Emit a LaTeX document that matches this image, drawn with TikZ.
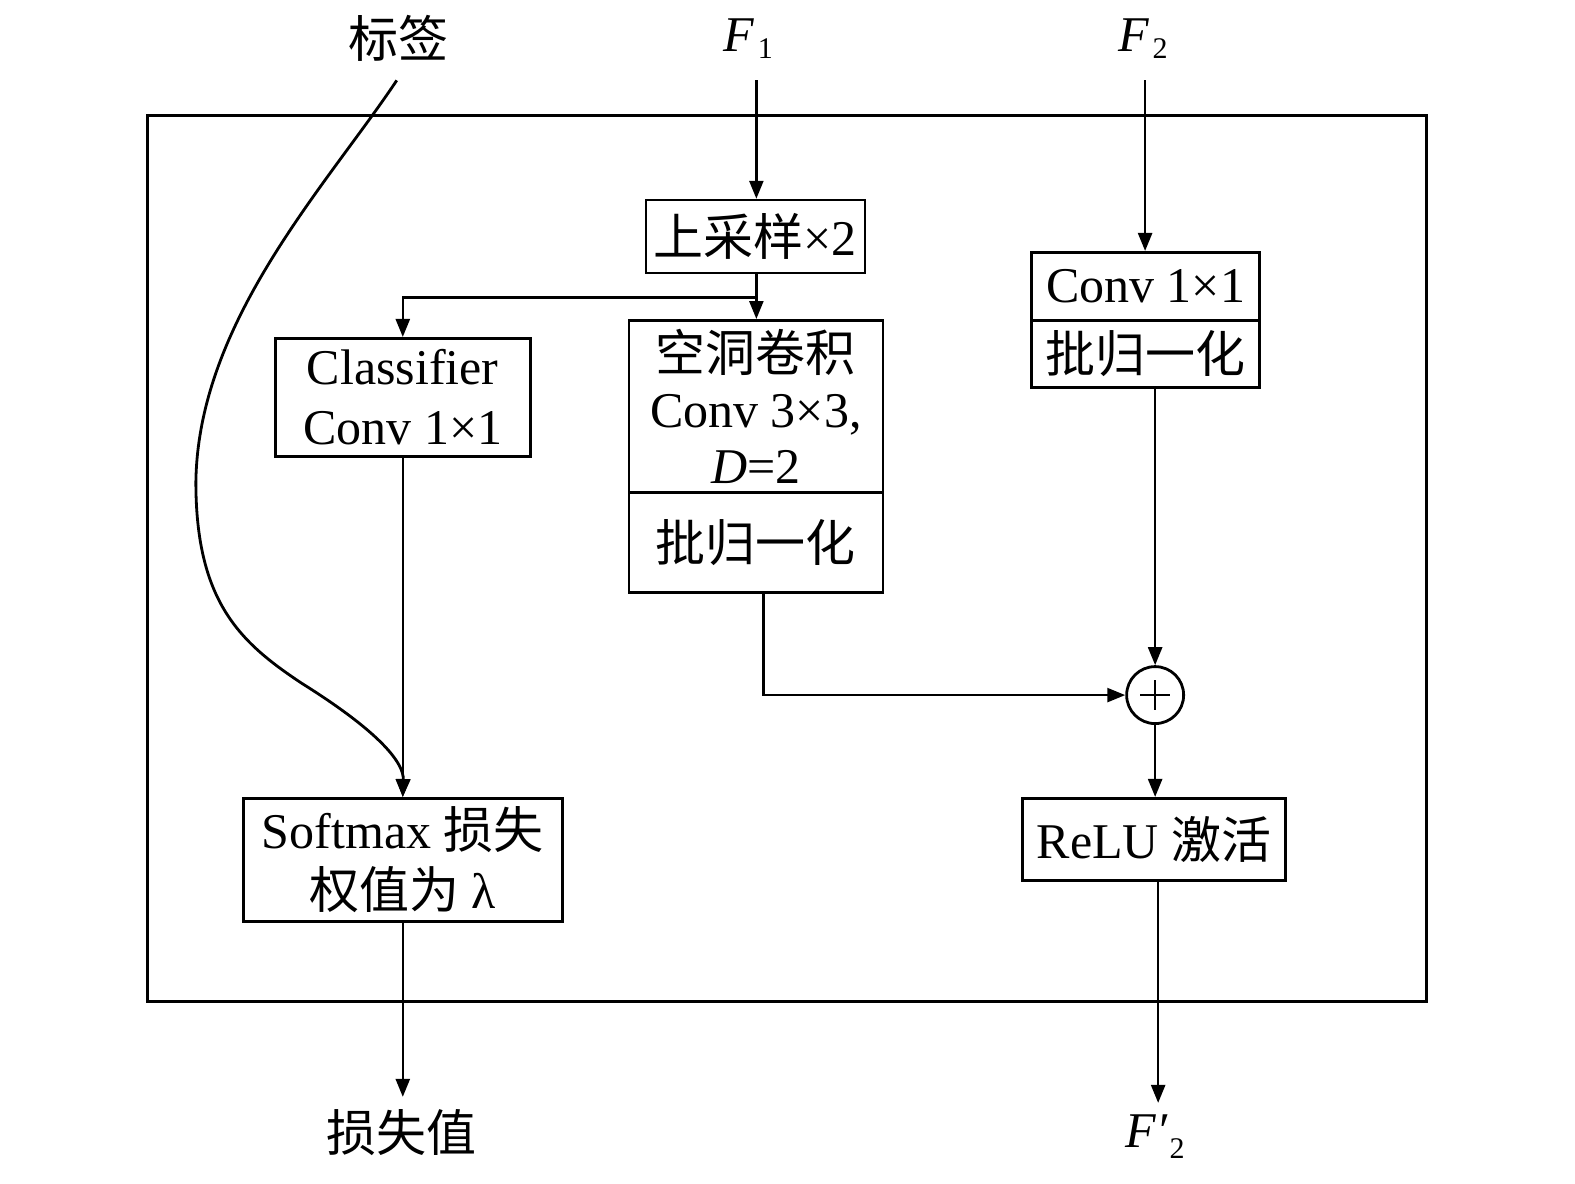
\documentclass[tikz,border=0pt]{standalone}
\usepackage{fontspec}
\setmainfont{Liberation Serif}
\newfontfamily\cjk{Noto Sans CJK SC}
\usetikzlibrary{arrows.meta}
\begin{document}
\begin{tikzpicture}[x=1.0045pt,y=-1.0045pt,
  every node/.style={font=\fontsize{50}{60}\selectfont, inner sep=0pt, align=center},
  blk/.style={draw, line width=2.6pt, inner sep=0pt, align=center},
  arr/.style={-{Triangle[length=18pt,width=14pt]}, line width=2.5pt}]
\useasboundingbox (0,0) rectangle (1568,1178);
\draw[line width=3pt] (147,115) rectangle (1420,997);

% blocks
\node[blk, minimum width=219pt, minimum height=73pt] (up) at (752,235.5) {{\cjk 上采样}×2};
\node[blk, minimum width=255pt, minimum height=118pt] (cls) at (401,395.5) {Classifier\\Conv 1×1};
\node[blk, minimum width=254pt, minimum height=172pt, font=\fontsize{50}{56}\selectfont] (dila) at (752.5,404.5) {{\cjk 空洞卷积}\\Conv 3×3,\\\textit{D}=2};
\node[blk, minimum width=254pt, minimum height=100pt] (dilb) at (752.5,540) {\cjk 批归一化};
\node[blk, minimum width=228pt, minimum height=68pt] (rca) at (1140.5,285) {Conv 1×1};
\node[blk, minimum width=228pt, minimum height=67pt] (rcb) at (1140.5,352.5) {\cjk 批归一化};
\node[draw, circle, line width=2.8pt, minimum size=57pt] (plus) at (1150,692) {};
\draw[line width=1.5pt] (plus.center) +(-15,0) -- +(15,0) (plus.center) +(0,-15) -- +(0,15);
\node[blk, minimum width=263pt, minimum height=82pt] (relu) at (1149,835.5) {ReLU {\cjk 激活}};
\node[blk, minimum width=319pt, minimum height=123pt] (sm) at (401,856) {Softmax {\cjk 损失}\\{\cjk 权值为} λ};

% labels
\node (lab) at (397,38) {\cjk 标签};
\node (f1) at (745,38) {\textit{F}\hspace{3pt}\raisebox{-7pt}{\fontsize{30}{30}\selectfont 1}};
\node (f2) at (1138,38) {\textit{F}\hspace{3pt}\raisebox{-7pt}{\fontsize{30}{30}\selectfont 2}};
\node (loss) at (400,1128) {\cjk 损失值};
\node (f2o) at (1150,1132) {\textit{F′}\hspace{2pt}\raisebox{-11pt}{\fontsize{30}{30}\selectfont 2}};

% free ends
\coordinate (labe) at (395,80);
\coordinate (f1e) at (753,80);
\coordinate (f2e) at (1140,80);
\coordinate (br) at (753,296);
\coordinate (losse) at (401,1092);
\coordinate (f2oe) at (1153,1098);

% connectors
\draw[arr] (f1e) -- (f1e |- up.north);
\draw[arr] (br |- up.south) -- (br |- dila.north);
\draw[arr] (br) -| (cls.north);
\draw[arr] (f2e) -- (f2e |- rca.north);
\draw[arr] (plus |- rcb.south) -- (plus.north);
\draw[arr] ([xshift=7.5pt]dilb.south) |- (plus.west);
\draw[arr] (plus.south) -- (plus |- relu.north);
\draw[arr] (f2oe |- relu.south) -- (f2oe);
\draw[arr] (cls.south) -- (sm.north);
\draw[arr] (sm.south) -- (losse);
\draw[arr, line width=2.8pt] (labe) .. controls (325,185) and (197,320) .. (195,480)
  .. controls (195,600) and (240,640) .. (300,680)
  .. controls (380,730) and (402,760) .. (sm.north);
\end{tikzpicture}
\end{document}
